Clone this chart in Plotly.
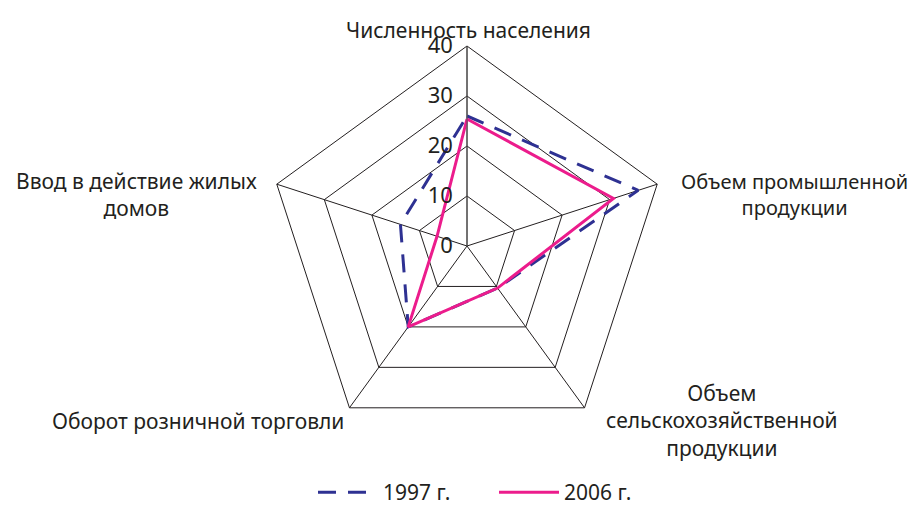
import plotly.graph_objects as go

categories = ["Численность населения", "Объем промышленной продукции",
              "Объем сельскохозяйственной продукции", "Оборот розничной торговли",
              "Ввод в действие жилых домов"]
values_1997 = [26, 36, 10.4, 20, 14]
values_2006 = [25.4, 30.8, 10.4, 20, 6.3]
tick_vals = [0, 10, 20, 30, 40]
tick_text = ["0", "10", "20", "30", "40"]

navy = "#2E3192"
pink = "#EC1C8C"
font_family = "Noto Sans"

fig = go.Figure()
fig.add_trace(go.Scatterpolar(
    r=values_1997 + values_1997[:1], theta=categories + categories[:1],
    mode="lines", name="1997 г.",
    line=dict(color=navy, width=3, dash="18px,12px"),
))
fig.add_trace(go.Scatterpolar(
    r=values_2006 + values_2006[:1], theta=categories + categories[:1],
    mode="lines", name="2006 г.",
    line=dict(color=pink, width=3),
))

W, H = 917, 505
cx, cy, R = 459, 238, 200
fig.update_layout(
    width=W, height=H,
    margin=dict(l=0, r=0, t=0, b=0),
    paper_bgcolor="white", plot_bgcolor="white",
    font=dict(family=font_family, size=21, color="#231F20"),
    polar=dict(
        domain=dict(x=[(cx - R) / W, (cx + R) / W], y=[(H - cy - R) / H, (H - cy + R) / H]),
        gridshape="linear",
        bgcolor="white",
        radialaxis=dict(
            range=[0, 40], tickvals=tick_vals, ticktext=tick_text,
            angle=90, tickangle=90, side="counterclockwise",
            showline=True, linecolor="#555", linewidth=1,
            gridcolor="#231F20", gridwidth=1, ticks="outside", ticklen=6, tickcolor="rgba(0,0,0,0)",
            tickfont=dict(size=22, family=font_family, color="#231F20"),
        ),
        angularaxis=dict(
            direction="clockwise", rotation=90,
            showticklabels=False, ticks="",
            linecolor="#231F20", linewidth=1,
            gridcolor="#231F20", gridwidth=1,
        ),
    ),
    showlegend=True,
    legend=dict(orientation="h", x=305 / W, xanchor="left", y=0.0, yanchor="bottom",
                font=dict(size=21, family=font_family), itemwidth=60,
                entrywidth=106, entrywidthmode="pixels"),
)

def px_ann(text, x, y, size=21):
    fig.add_annotation(text=text, x=x / W, y=1 - y / H, xref="paper", yref="paper",
                       showarrow=False, align="center", xanchor="center", yanchor="middle",
                       font=dict(size=size, family=font_family, color="#231F20"))

px_ann(categories[0], 461, 22)
px_ann("Объем промышленной<br>продукции", 786, 186, size=20)
px_ann("Объем<br>сельскохозяйственной<br>продукции", 714, 412)
px_ann(categories[3], 190, 413)
px_ann("Ввод в действие жилых<br>домов", 128, 186)

fig.write_html("out.html")
